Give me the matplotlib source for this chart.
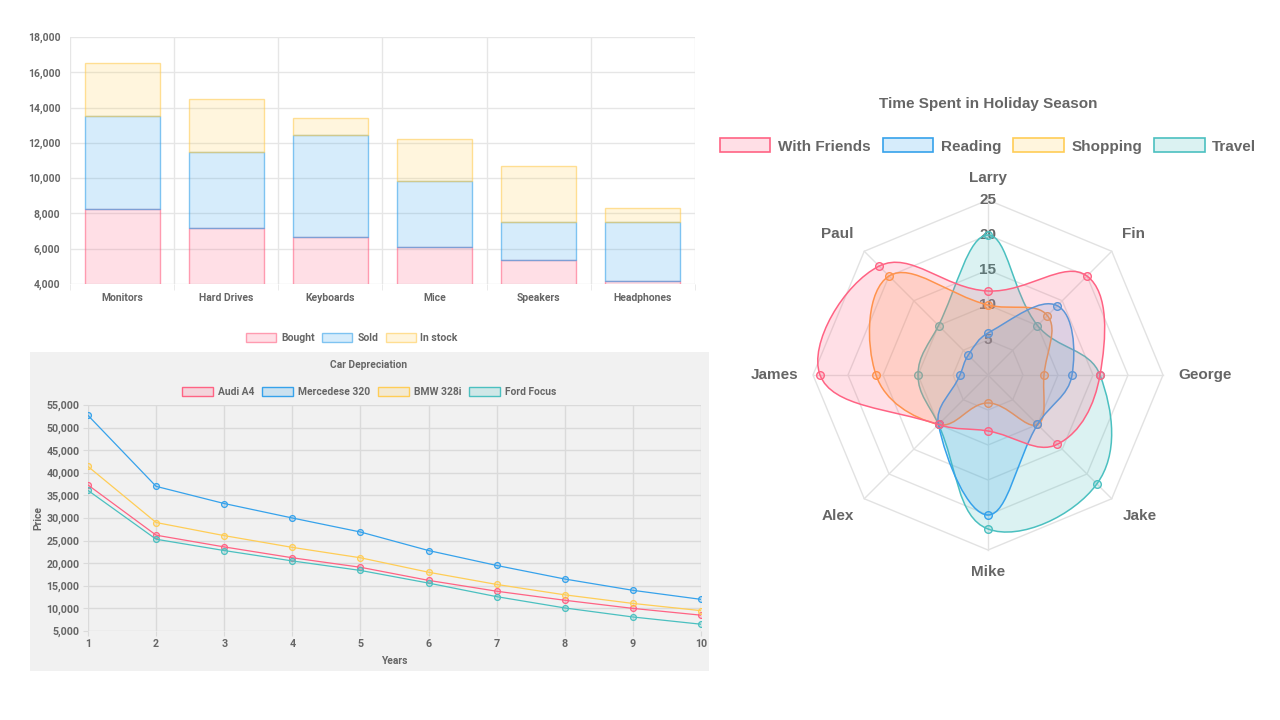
import numpy as np
import matplotlib
matplotlib.use('Agg')
import matplotlib.pyplot as plt
from matplotlib.patches import Patch, Rectangle, PathPatch
from matplotlib.path import Path
from matplotlib.ticker import FuncFormatter

# ---- dados: barras empilhadas (incrementos) ----
produtos = ['Monitors', 'Hard Drives', 'Keyboards', 'Mice', 'Speakers', 'Headphones']
bought = [8250, 7200, 6650, 6100, 5350, 4150]
sold = [5250, 4300, 5800, 3750, 2150, 3350]
in_stock = [3000, 3000, 950, 2350, 3200, 800]

# ---- dados: depreciacao ----
anos = [1, 2, 3, 4, 5, 6, 7, 8, 9, 10]
audi_a4 = [37300, 26200, 23600, 21200, 19100, 16200, 13800, 11800, 10000, 8500]
mercedes_320 = [52700, 37000, 33200, 30000, 26900, 22800, 19500, 16500, 14000, 12000]
bmw_328i = [41400, 29000, 26100, 23500, 21200, 18000, 15300, 13000, 11100, 9500]
ford_focus = [36100, 25300, 22800, 20500, 18400, 15600, 12600, 10100, 8100, 6500]

# ---- dados: radar ----
pessoas = ['Larry', 'Fin', 'George', 'Jake', 'Mike', 'Alex', 'James', 'Paul']
with_friends = [12, 20, 16, 14, 8, 10, 24, 22]
reading = [6, 14, 12, 10, 20, 10, 4, 4]
shopping = [10, 12, 8, 10, 4, 10, 16, 20]
travel = [20, 10, 16, 22, 22, 10, 10, 10]
radar_ticks = [5, 10, 15, 20, 25]

RED = (1.0, 99/255, 132/255)
BLUE = (54/255, 162/255, 235/255)
YELLOW = (1.0, 205/255, 86/255)
ORANGE = (1.0, 159/255, 64/255)
TEAL = (75/255, 192/255, 192/255)
GREY = '#666666'

def fade(c, a):
    return (c[0], c[1], c[2], a)

W, H = 1280, 720
fig = plt.figure(figsize=(12.8, 7.2), dpi=100)

def box(x0, y0, x1, y1):
    # pixels (topo-esquerda) -> coordenadas da figura
    return [x0 / W, 1 - y1 / H, (x1 - x0) / W, (y1 - y0) / H]

# ================= grafico de barras =================
LEFT_FONT = 'Roboto'
ax1 = fig.add_axes(box(70, 37, 695, 284))
x = np.arange(len(produtos))
b1 = np.array(bought)
b2 = np.array(sold)
b3 = np.array(in_stock)
ax1.bar(x, b1, 0.72, color=fade(RED, 0.2), edgecolor=fade(RED, 0.6), linewidth=1, zorder=2)
ax1.bar(x, b2, 0.72, bottom=b1, color=fade(BLUE, 0.2), edgecolor=fade(BLUE, 0.6), linewidth=1, zorder=2)
ax1.bar(x, b3, 0.72, bottom=b1 + b2, color=fade(YELLOW, 0.2), edgecolor=fade(YELLOW, 0.6), linewidth=1, zorder=2)
ax1.set_xlim(-0.5, len(produtos) - 0.5)
ax1.set_ylim(4000, 18000)
ax1.set_yticks(np.arange(4000, 18001, 2000))
ax1.yaxis.set_major_formatter(FuncFormatter(lambda v, p: f'{v:,.0f}'))
ax1.set_xticks(x)
ax1.set_xticklabels(produtos)
ax1.set_xticks(np.arange(-0.5, len(produtos), 1), minor=True)
ax1.grid(True, axis='y', color='#e6e6e6', linewidth=1, zorder=0)
ax1.xaxis.grid(True, which='minor', color='#e6e6e6', linewidth=1, zorder=0)
ax1.tick_params(axis='x', which='major', length=0, pad=6.5)
ax1.tick_params(axis='x', which='minor', length=4.5, color='#e6e6e6')
ax1.tick_params(axis='y', length=0, pad=7)
for s in ax1.spines.values():
    s.set_visible(False)
for lab in ax1.get_xticklabels() + ax1.get_yticklabels():
    lab.set_fontfamily(LEFT_FONT)
    lab.set_fontweight('bold')
    lab.set_fontsize(7.5)
    lab.set_color(GREY)
ax1.set_axisbelow(True)

h1 = [Patch(facecolor=fade(c, 0.2), edgecolor=fade(c, 0.6), linewidth=1) for c in (RED, BLUE, YELLOW)]
fig.legend(h1, ['Bought', 'Sold', 'In stock'], loc='center', bbox_to_anchor=(352 / W, 1 - 338 / H),
           ncol=3, frameon=False, handlelength=2.9, handleheight=0.9, handletextpad=0.45,
           columnspacing=0.72, prop={'family': LEFT_FONT, 'weight': 'bold', 'size': 7.5},
           labelcolor=GREY)

# ================= grafico de linhas =================
fig.patches.append(Rectangle((30 / W, 1 - 671 / H), 679 / W, 319 / H, transform=fig.transFigure,
                             facecolor='#f1f1f1', edgecolor='none', zorder=-5))
ax2 = fig.add_axes(box(88, 405, 701, 631))
ax2.set_zorder(2)
ax2.set_facecolor('#f1f1f1')
series = [('Audi A4', audi_a4, RED), ('Mercedese 320', mercedes_320, BLUE),
          ('BMW 328i', bmw_328i, YELLOW), ('Ford Focus', ford_focus, TEAL)]
for nome, vals, c in series:
    ax2.plot(anos, vals, color=c, linewidth=0.9, marker='o', markersize=4.2,
             markerfacecolor=fade(c, 0.2), markeredgecolor=c, markeredgewidth=0.9, zorder=3)
ax2.set_xlim(1, 10)
ax2.set_ylim(5000, 55000)
ax2.set_xticks(anos)
ax2.set_yticks(np.arange(5000, 55001, 5000))
ax2.yaxis.set_major_formatter(FuncFormatter(lambda v, p: f'{v:,.0f}'))
ax2.grid(True, color='#dadada', linewidth=1, zorder=0)
ax2.tick_params(length=3.6, color='#dadada', pad=2.5)
for s in ax2.spines.values():
    s.set_visible(False)
for lab in ax2.get_xticklabels() + ax2.get_yticklabels():
    lab.set_fontfamily(LEFT_FONT)
    lab.set_fontweight('bold')
    lab.set_fontsize(7.7)
    lab.set_color(GREY)
fig.text(369 / W, 1 - 365 / H, 'Car Depreciation', ha='center', va='center',
         family=LEFT_FONT, weight='bold', size=7.4, color=GREY)
fig.text(394 / W, 1 - 661 / H, 'Years', ha='center', va='center',
         family=LEFT_FONT, weight='bold', size=7.4, color=GREY)
fig.text(38 / W, 1 - 518 / H, 'Price', ha='center', va='center', rotation=90,
         family=LEFT_FONT, weight='bold', size=7.4, color=GREY)
h2 = [Patch(facecolor=fade(c, 0.2), edgecolor=c, linewidth=1) for _, _, c in series]
fig.legend(h2, [n for n, _, _ in series], loc='center', bbox_to_anchor=(369 / W, 1 - 392 / H),
           ncol=4, frameon=False, handlelength=3.0, handleheight=0.95, handletextpad=0.48,
           columnspacing=0.77, prop={'family': LEFT_FONT, 'weight': 'bold', 'size': 7.4},
           labelcolor=GREY)

# ================= radar =================
RF = 'Liberation Sans'
PX = 7.0  # pixels por unidade
cx, cy, half = 988, 375, 260
ax3 = fig.add_axes(box(cx - half, cy - half, cx + half, cy + half))
ax3.set_xlim(-half / PX, half / PX)
ax3.set_ylim(-half / PX, half / PX)
ax3.axis('off')

n = len(pessoas)
ang = 2 * np.pi * np.arange(n) / n
ux, uy = np.sin(ang), np.cos(ang)

for t in radar_ticks:
    ax3.plot(np.append(ux, ux[0]) * t, np.append(uy, uy[0]) * t, color='#e2e2e2', linewidth=1, zorder=1)
for i in range(n):
    ax3.plot([0, ux[i] * radar_ticks[-1]], [0, uy[i] * radar_ticks[-1]], color='#e2e2e2', linewidth=1, zorder=1)
for t in radar_ticks:
    ax3.text(0, t, str(t), ha='center', va='center', family=RF, weight='bold', size=11, color=GREY, zorder=2)

r_lab = 190 / PX
aligns = [('center', 'bottom'), ('left', 'bottom'), ('left', 'center'), ('left', 'top'),
          ('center', 'top'), ('right', 'top'), ('right', 'center'), ('right', 'bottom')]
for i, nome in enumerate(pessoas):
    ha, va = aligns[i]
    ax3.text(ux[i] * r_lab, uy[i] * r_lab, nome, ha=ha, va=va, family=RF, weight='bold',
             size=11, color=GREY)

def spline_path(vals, tension=0.4):
    pts = np.column_stack([ux * np.array(vals), uy * np.array(vals)])
    m = len(pts)
    cp_prev, cp_next = [], []
    for i in range(m):
        p0, p1, p2 = pts[i - 1], pts[i], pts[(i + 1) % m]
        d01 = np.hypot(*(p1 - p0))
        d12 = np.hypot(*(p2 - p1))
        s01 = d01 / (d01 + d12)
        s12 = d12 / (d01 + d12)
        cp_prev.append(p1 - tension * s01 * (p2 - p0))
        cp_next.append(p1 + tension * s12 * (p2 - p0))
    verts = [pts[0]]
    codes = [Path.MOVETO]
    for i in range(m):
        j = (i + 1) % m
        verts += [cp_next[i], cp_prev[j], pts[j]]
        codes += [Path.CURVE4] * 3
    verts.append(pts[0])
    codes.append(Path.CLOSEPOLY)
    return Path(verts, codes), pts

radar_sets = [('With Friends', with_friends, RED, RED), ('Reading', reading, BLUE, BLUE),
              ('Shopping', shopping, ORANGE, YELLOW), ('Travel', travel, TEAL, TEAL)]
for k, (nome, vals, c, _) in enumerate(reversed(radar_sets)):
    path, pts = spline_path(vals)
    z = 3 + k
    ax3.add_patch(PathPatch(path, facecolor=fade(c, 0.2), edgecolor='none', zorder=z))
    ax3.add_patch(PathPatch(path, facecolor='none', edgecolor=c, linewidth=1.1, zorder=z))
    ax3.plot(pts[:, 0], pts[:, 1], linestyle='none', marker='o', markersize=5.5,
             markerfacecolor=fade(c, 0.2), markeredgecolor=c, markeredgewidth=1.0, zorder=z)

fig.text(988 / W, 1 - 104 / H, 'Time Spent in Holiday Season', ha='center', va='center',
         family=RF, weight='bold', size=11, color=GREY)
h3 = [Patch(facecolor=fade(lc, 0.2), edgecolor=lc, linewidth=1.2) for _, _, _, lc in radar_sets]
fig.legend(h3, [r[0] for r in radar_sets], loc='center', bbox_to_anchor=(988 / W, 1 - 146 / H),
           ncol=4, frameon=False, handlelength=3.3, handleheight=1.0, handletextpad=0.5,
           columnspacing=0.8, prop={'family': RF, 'weight': 'bold', 'size': 11},
           labelcolor=GREY)

fig.savefig('out.png', dpi=100, facecolor='white')
